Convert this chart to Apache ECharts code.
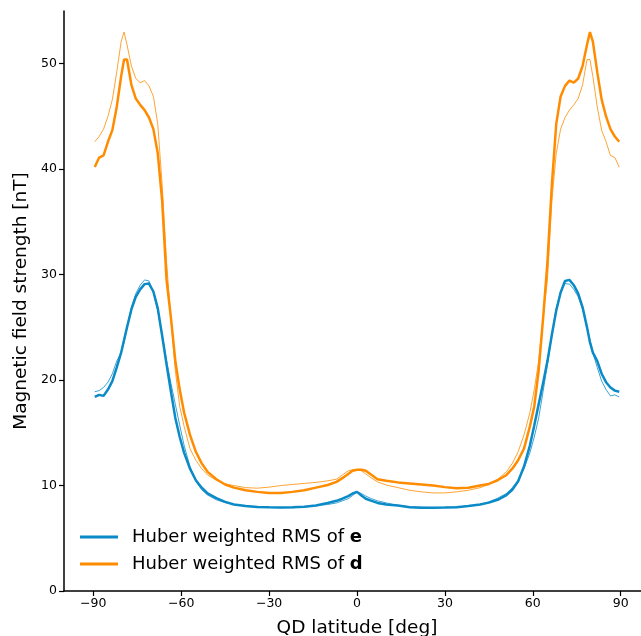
<!DOCTYPE html>
<html><head><meta charset="utf-8">
<script src="https://cdn.jsdelivr.net/npm/echarts@6/dist/echarts.min.js"></script>
<style>html,body{margin:0;padding:0;background:#fff}#c{width:641px;height:636px}</style>
</head><body><div id="c"></div>
<script>
// QD latitude grid (deg)
const lat = [-89.5,-88,-86.5,-85,-83.5,-82,-80.5,-79.5,-78.5,-77,-75.5,-74,-72.5,-71,-69.5,-68,-66.5,-65,-63.5,-62,-60.5,-59,-57,-55,-53,-51,-48,-45,-42,-38,-34,-30,-26,-22,-18,-14,-10,-7,-5,-3,-1.5,0,1.5,3,5,7,10,14,18,22,26,30,34,38,42,45,48,51,53,55,57,59,60.5,62,63.5,65,66.5,68,69.5,71,72.5,74,75.5,77,78.5,79.5,80.5,82,83.5,85,86.5,88,89.5];
// Huber weighted RMS of e (thick blue)
const eVal = [18.4,18.6,18.5,19.1,19.9,21.2,22.6,23.8,25.0,26.7,27.9,28.6,29.1,29.15,28.4,26.8,24.2,21.5,18.9,16.4,14.6,13.1,11.6,10.5,9.8,9.25,8.8,8.45,8.2,8.05,7.97,7.94,7.92,7.94,8.0,8.1,8.35,8.55,8.75,9.0,9.25,9.4,9.05,8.75,8.55,8.35,8.2,8.1,7.95,7.9,7.9,7.92,7.95,8.05,8.2,8.38,8.65,9.1,9.6,10.4,11.8,13.8,15.7,17.7,19.7,21.8,24.3,26.6,28.3,29.4,29.5,29.0,28.2,26.9,25.0,23.6,22.6,21.8,20.6,19.8,19.3,19.0,18.9];
// Huber weighted RMS of d (thick orange)
const dVal = [40.2,41.1,41.3,42.6,43.7,45.9,48.8,50.4,50.4,48.0,46.7,46.1,45.6,44.9,43.8,41.5,37.0,29.5,25.9,21.8,19.1,16.9,14.8,13.2,12.1,11.3,10.6,10.1,9.8,9.55,9.4,9.3,9.3,9.4,9.55,9.8,10.05,10.35,10.7,11.1,11.4,11.5,11.5,11.4,11.0,10.6,10.45,10.3,10.2,10.1,10.0,9.85,9.75,9.8,10.0,10.15,10.5,11.0,11.6,12.4,13.5,15.6,17.5,20.9,25.8,31.2,38.5,44.3,46.9,47.9,48.4,48.2,48.6,49.8,51.8,53.0,52.1,49.2,46.6,45.0,43.8,43.1,42.6];
// thin lines: same profiles read in the opposite hemisphere (mirrored latitude)
const eThin = [18.9,19.0,19.3,19.8,20.6,21.8,22.6,23.6,25.0,26.9,28.2,29.0,29.5,29.4,28.3,26.6,24.3,21.8,19.7,17.7,15.7,13.8,11.8,10.4,9.6,9.1,8.65,8.38,8.2,8.05,7.95,7.92,7.9,7.9,7.95,8.1,8.2,8.35,8.55,8.75,9.05,9.4,9.25,9.0,8.75,8.55,8.35,8.1,8.0,7.94,7.92,7.94,7.97,8.05,8.2,8.45,8.8,9.25,9.8,10.5,11.6,13.1,14.6,16.4,18.9,21.5,24.2,26.8,28.4,29.15,29.1,28.6,27.9,26.7,25.0,23.8,22.6,21.2,19.9,19.1,18.5,18.6,18.4];
const dThin = [42.6,43.1,43.8,45.0,46.6,49.2,52.1,53.0,51.8,49.8,48.6,48.2,48.4,47.9,46.9,44.3,38.5,31.2,25.8,20.9,17.5,15.6,13.5,12.4,11.6,11.0,10.5,10.15,10.0,9.8,9.75,9.85,10.0,10.1,10.2,10.3,10.45,10.6,11.0,11.4,11.5,11.5,11.4,11.1,10.7,10.35,10.05,9.8,9.55,9.4,9.3,9.3,9.4,9.55,9.8,10.1,10.6,11.3,12.1,13.2,14.8,16.9,19.1,21.8,25.9,29.5,37.0,41.5,43.8,44.9,45.6,46.1,46.7,48.0,50.4,50.4,48.8,45.9,43.7,42.6,41.3,41.1,40.2];
const xTicks = [-90,-60,-30,0,30,60,90];
const yTicks = [0,10,20,30,40,50];

const BLUE = '#0a8ac6', ORANGE = '#ff8c00';
const FONT = 'DejaVu Sans';
const pair = (v) => lat.map((x,i)=>[x, v[i]]);

const chart = echarts.init(document.getElementById('c'), null, {renderer:'canvas'});
chart.setOption({
  animation:false,
  backgroundColor:'#fff',
  grid:{left:64, right:-9, top:11, bottom:45, containLabel:false, outerBoundsMode:'none'},
  xAxis:{type:'value', min:-100, max:100, interval:30,
    name:'QD latitude [deg]', nameLocation:'middle', nameGap:28,
    nameTextStyle:{fontFamily:FONT, fontSize:18.5, color:'#000'},
    axisLine:{show:true, onZero:false, lineStyle:{color:'#000', width:1.5}},
    axisTick:{show:true, inside:false, length:5, lineStyle:{color:'#000', width:1.2},
      customValues: xTicks},
    axisLabel:{fontFamily:FONT, fontSize:12.5, color:'#000', margin:6,
      customValues: xTicks,
      formatter:(v)=>String(v).replace('-','\u2212')},
    splitLine:{show:false}},
  yAxis:{type:'value', min:0, max:55, interval:10,
    name:'Magnetic field strength [nT]', nameLocation:'middle', nameGap:29, nameRotate:90,
    nameTextStyle:{fontFamily:FONT, fontSize:18.5, color:'#000'},
    axisLine:{show:true, onZero:false, lineStyle:{color:'#000', width:1.5}},
    axisTick:{show:true, inside:false, length:5, lineStyle:{color:'#000', width:1.2},
      customValues: yTicks},
    axisLabel:{fontFamily:FONT, fontSize:12.5, color:'#000', margin:7,
      customValues: yTicks},
    splitLine:{show:false}},
  legend:{orient:'vertical', left:75, top:523, itemWidth:38, itemHeight:3, itemGap:9,
    selectedMode:false,
    data:[{name:'e', icon:'rect'},{name:'d', icon:'rect'}],
    formatter:(n)=>'{n|Huber weighted RMS of }{b|'+n+'}',
    textStyle:{fontFamily:FONT, fontSize:18, color:'#000', padding:[0,0,0,9],
      rich:{n:{fontFamily:FONT, fontSize:18, color:'#000', height:19},
            b:{fontFamily:FONT, fontSize:18, color:'#000', fontWeight:'bold', height:19}}}},
  series:[
    {name:'e', type:'line', data:pair(eVal), showSymbol:false, symbol:'none',
     lineStyle:{color:BLUE, width:2.5}, itemStyle:{color:BLUE}, z:3},
    {name:'d', type:'line', data:pair(dVal), showSymbol:false, symbol:'none',
     lineStyle:{color:ORANGE, width:2.5}, itemStyle:{color:ORANGE}, z:3},
    {name:'eThin', type:'line', data:pair(eThin), showSymbol:false, symbol:'none',
     lineStyle:{color:BLUE, width:0.8}, itemStyle:{color:BLUE}, z:4},
    {name:'dThin', type:'line', data:pair(dThin), showSymbol:false, symbol:'none',
     lineStyle:{color:ORANGE, width:0.8}, itemStyle:{color:ORANGE}, z:4}
  ]
});
</script></body></html>
